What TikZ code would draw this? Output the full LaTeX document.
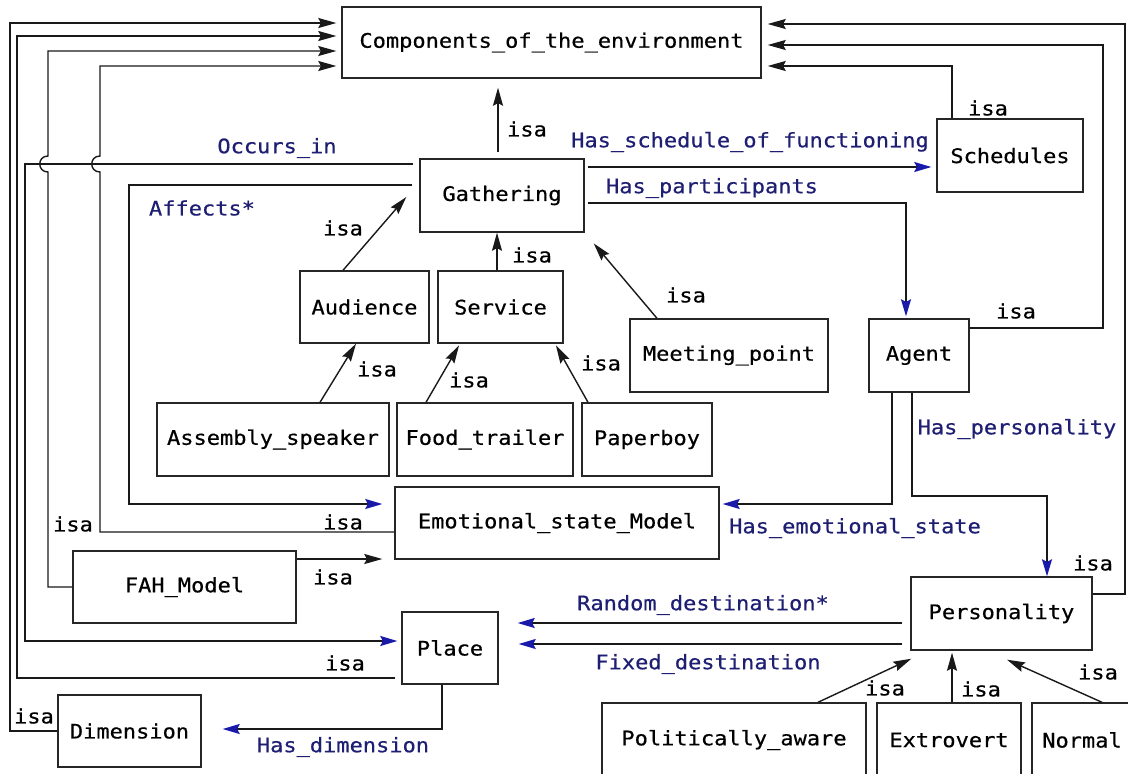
\documentclass[tikz,border=0pt]{standalone}
\usepackage{fontspec}
\newfontfamily\diafont[FakeStretch=1.1,FakeBold=0.5]{DejaVu Sans Mono}
\usetikzlibrary{arrows.meta,calc}
\definecolor{lblblue}{RGB}{30,30,115}
\definecolor{arrblue}{RGB}{25,25,170}
\tikzset{
  box/.style={draw=black!85, line width=1.4pt, fill=white, inner sep=0pt,
    font=\diafont\fontsize{20}{24}\selectfont},
  conn/.style={draw=black!90, line width=1.4pt},
  isa/.style={conn, -{Stealth[length=18pt,width=10pt,inset=2.5pt]}},
  rel/.style={conn, -{Stealth[length=17pt,width=10pt,inset=2.5pt,color=arrblue]}},
  lab/.style={font=\diafont\fontsize{20}{24}\selectfont, inner sep=0pt},
  isalab/.style={lab, text=black},
  rellab/.style={lab, text=lblblue},
}
\begin{document}
\begin{tikzpicture}[x=1pt,y=-1pt]
\fill[white] (0,0) rectangle (1128,774);
\useasboundingbox (0,0) rectangle (1128,774);

% boxes
\node[box, minimum width=419pt, minimum height=71pt] (comp) at (551.5,42.5) {Components\_of\_the\_environment};
\node[box, minimum width=164pt, minimum height=73pt] (gath) at (502,195.5) {Gathering};
\node[box, minimum width=146pt, minimum height=73pt] (sched) at (1010,155.5) {Schedules};
\node[box, minimum width=129pt, minimum height=72pt] (aud) at (364.5,307) {Audience};
\node[box, minimum width=125pt, minimum height=72pt] (serv) at (500.5,307) {Service};
\node[box, minimum width=198pt, minimum height=73pt] (meet) at (729,355.5) {Meeting\_point};
\node[box, minimum width=100pt, minimum height=73pt] (agent) at (919,355.5) {Agent};
\node[box, minimum width=232pt, minimum height=73pt] (asm) at (273,439.5) {Assembly\_speaker};
\node[box, minimum width=176pt, minimum height=73pt] (food) at (485,439.5) {Food\_trailer};
\node[box, minimum width=130pt, minimum height=73pt] (paper) at (647,439.5) {Paperboy};
\node[box, minimum width=324pt, minimum height=72pt] (emo) at (557,523) {Emotional\_state\_Model};
\node[box, minimum width=223pt, minimum height=72pt] (fah) at (184.5,587) {FAH\_Model};
\node[box, minimum width=181pt, minimum height=73pt] (pers) at (1001.5,613.5) {Personality};
\node[box, minimum width=96pt, minimum height=72pt] (place) at (450,648) {Place};
\node[box, minimum width=143pt, minimum height=72pt] (dim) at (129.5,731) {Dimension};
\node[box, minimum width=264pt, minimum height=74pt] (pol) at (734,740) {Politically\_aware};
\node[box, minimum width=144pt, minimum height=74pt] (extro) at (949,740) {Extrovert};
\node[box, minimum width=100pt, minimum height=74pt] (norm) at (1082,740) {Normal};

% isa links to Components (left side)
\draw[isa, shorten >=5pt] (dim.west) -| (10,23) -- (comp.west |- 0,23);
\draw[isa, shorten <=6pt, shorten >=5pt] (place.west |- 0,678) -| (17,36) -- (comp.west |- 0,36);
\draw[isa, shorten >=5pt] (fah.west) -- (48,587) -- (48,172) .. controls (37,172) and (37,156) .. (48,156) -- (48,51) -- (comp.west |- 0,51);
\draw[isa, shorten >=5pt] (emo.west |- 0,532) -- (100,532) -- (100,172) .. controls (89,172) and (89,156) .. (100,156) -- (100,66) -- (comp.west |- 0,66);

% relations from Gathering to the left
\draw[rel, shorten <=6pt, shorten >=4pt] (gath.west |- 0,164) -- (25,164) |- (place.west |- 0,641);
\draw[rel, shorten <=7pt, shorten >=12pt] (gath.west |- 0,185) -- (129,185) |- (emo.west |- 0,504);
\draw[isa, shorten >=12pt] (fah.east |- 0,559) -- (emo.west |- 0,559);

% Gathering up
\draw[isa, shorten <=6pt, shorten >=9pt] (gath.north -| 498,0) -- (comp.south -| 498,0);

% right side
\draw[rel, shorten <=3pt, shorten >=5pt] (gath.east |- 0,167) -- (sched.west |- 0,167);
\draw[rel, shorten <=3pt, shorten >=2pt] (gath.east |- 0,203) -| (agent.north -| 906,0);
\draw[isa, shorten >=6pt] (sched.north -| 952,0) |- (comp.east |- 0,66);
\draw[isa, shorten >=6pt] (agent.east |- 0,328) -| (1103,45) -- (comp.east |- 0,45);
\draw[isa, shorten >=6pt] (pers.east |- 0,594) -| (1125,24) -- (comp.east |- 0,24);
\draw[rel, shorten >=3pt] (agent.south -| 892,0) |- (emo.east |- 0,504);
\draw[rel] (agent.south -| 912,0) |- (1047,496) -- (pers.north -| 1047,0);
\draw[rel, shorten <=8pt, shorten >=19pt] (pers.west |- 0,623) -- (place.east |- 0,623);
\draw[rel, shorten <=8pt, shorten >=20pt] (pers.west |- 0,644) -- (place.east |- 0,644);
\draw[rel, shorten >=21pt] (place.south -| 442,0) |- (dim.east |- 0,729);

% isa hierarchy below Gathering
\draw[isa] (aud.north -| 343,0) -- ($(gath.west)+(-13,1.5)$);
\draw[isa] (serv.north -| 497,0) -- (gath.south -| 497,0);
\draw[isa, shorten >=14pt] (meet.north -| 657,0) -- (gath.south east);
\draw[isa] (asm.north -| 320,0) -- (aud.south -| 356,0);
\draw[isa, shorten >=2pt] (food.north -| 426,0) -- (serv.south -| 460,0);
\draw[isa, shorten >=2pt] (paper.north -| 588,0) -- (serv.south -| 555,0);

% isa hierarchy below Personality
\draw[isa] (pol.north -| 818,0) -- ($(pers.south west)+(1,8)$);
\draw[isa, shorten >=2pt] (extro.north -| 952,0) -- (pers.south -| 952,0);
\draw[isa] (norm.north -| 1102,0) -- ($(pers.south)+(5.5,9)$);

% labels
\node[isalab] (l1) at (34,716) {isa};
\node[isalab] (l2) at (345,663) {isa};
\node[isalab] (l3) at (73,524) {isa};
\node[isalab] (l4) at (343,522) {isa};
\node[isalab] (l5) at (333,577) {isa};
\node[rellab] (l6) at (277,148) {Occurs\_in};
\node[rellab] (l7) at (202,208) {Affects*};
\node[isalab] (l8) at (343,228) {isa};
\node[isalab] (l9) at (527,129) {isa};
\node[rellab] (l10) at (750,142) {Has\_schedule\_of\_functioning};
\node[rellab] (l11) at (712,188) {Has\_participants};
\node[isalab] (l12) at (988,108) {isa};
\node[isalab] (l13) at (1016,311) {isa};
\node[isalab] (l14) at (1093,563) {isa};
\node[rellab] (l15) at (1017,429) {Has\_personality};
\node[rellab] (l16) at (855,528) {Has\_emotional\_state};
\node[rellab] (l17) at (703,605) {Random\_destination*};
\node[rellab] (l18) at (708,664) {Fixed\_destination};
\node[rellab] (l19) at (343,747) {Has\_dimension};
\node[isalab] (l20) at (532,255) {isa};
\node[isalab] (l21) at (686,295) {isa};
\node[isalab] (l22) at (377,369) {isa};
\node[isalab] (l23) at (469,380) {isa};
\node[isalab] (l24) at (601,363) {isa};
\node[isalab] (l25) at (885,688) {isa};
\node[isalab] (l26) at (981,689) {isa};
\node[isalab] (l27) at (1098,672) {isa};
\end{tikzpicture}
\end{document}
